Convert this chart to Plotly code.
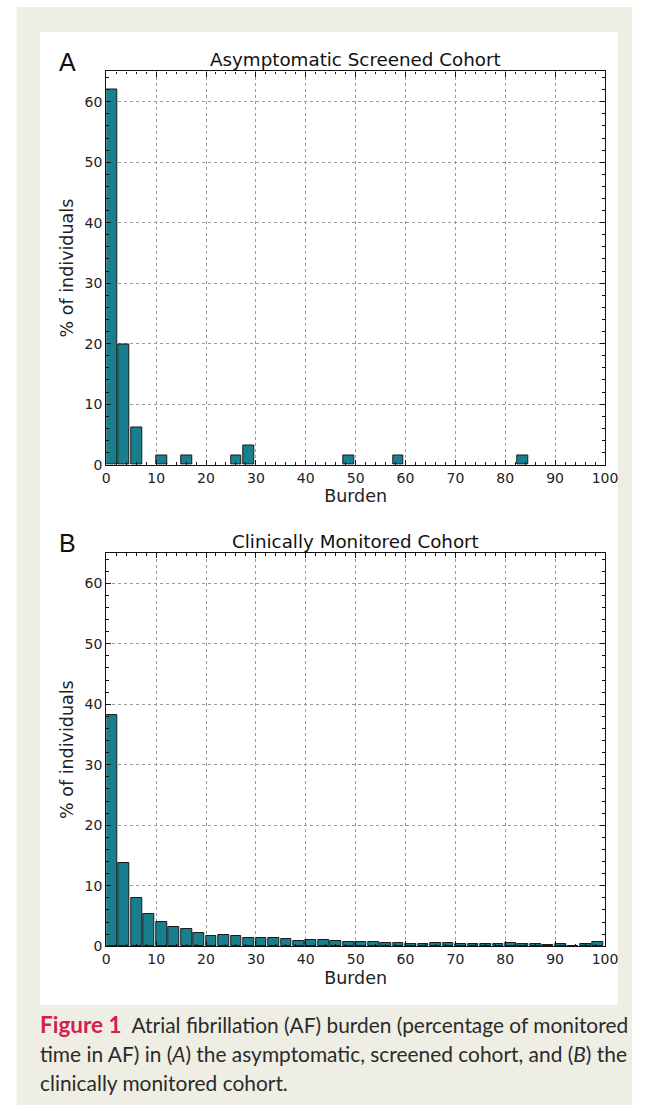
import plotly.graph_objects as go

# ---------------- data ----------------
bin_width = 2.5
bin_left = [i * bin_width for i in range(40)]  # 0, 2.5, ..., 97.5

cohort_a_pct = [62.0, 19.8, 6.1, 0, 1.55, 0, 1.55, 0, 0, 0,
                1.55, 3.1, 0, 0, 0, 0, 0, 0, 0, 1.55,
                0, 0, 0, 1.55, 0, 0, 0, 0, 0, 0,
                0, 0, 0, 1.55, 0, 0, 0, 0, 0, 0]

cohort_b_pct = [38.2, 13.8, 8.0, 5.4, 4.0, 3.1, 2.8, 2.2, 1.7, 1.9,
                1.6, 1.4, 1.3, 1.35, 1.25, 0.9, 1.1, 1.1, 0.8, 0.7,
                0.75, 0.7, 0.6, 0.6, 0.3, 0.4, 0.5, 0.45, 0.4, 0.35,
                0.3, 0.4, 0.5, 0.35, 0.3, 0.15, 0.4, 0.1, 0.4, 0.7]

x_ticks = [0, 10, 20, 30, 40, 50, 60, 70, 80, 90, 100]
y_ticks = [0, 10, 20, 30, 40, 50, 60]

titles = ["Asymptomatic Screened Cohort", "Clinically Monitored Cohort"]
panel_letters = ["A", "B"]
x_label = "Burden"
y_label = "% of individuals"

caption_lines = [
    "<b><span style='color:#d4204f;font-size:22.5px'>Figure 1</span></b>  Atrial fibrillation (AF) burden (percentage of monitored",
    "time in AF) in (<i>A</i>) the asymptomatic, screened cohort, and (<i>B</i>) the",
    "clinically monitored cohort.",
]

# ---------------- layout helpers ----------------
W, H = 655, 1120
def px(x): return x / W
def py(y): return 1 - y / H

BAR_COLOR = "#177f8e"
FONT = "DejaVu Sans"

fig = go.Figure()

for vals, xa, ya in [(cohort_a_pct, "x", "y"), (cohort_b_pct, "x2", "y2")]:
    fig.add_trace(go.Bar(
        x=bin_left, y=[v if v > 0 else None for v in vals], width=2.15, offset=0,
        marker=dict(color=BAR_COLOR, line=dict(color="#1a1a1a", width=1)),
        xaxis=xa, yaxis=ya, showlegend=False, hoverinfo="x+y",
    ))

axis_common = dict(
    showline=True, linecolor="#111", linewidth=1.2, mirror="ticks",
    ticks="inside", ticklen=5, tickcolor="#111",
    showgrid=True, gridcolor="#9a9a9a", griddash="dot", gridwidth=1,
    zeroline=False,
    tickfont=dict(family=FONT, size=14, color="#222"),
)

plot_left, plot_right = px(105), px(617)
doms = [(py(468), py(72)), (py(953), py(557))]

layout_axes = {}
for i, (ybot, ytop) in enumerate(doms):
    sfx = "" if i == 0 else "2"
    layout_axes["xaxis" + sfx] = dict(
        axis_common, domain=[plot_left, plot_right], range=[0, 100],
        tickvals=x_ticks, anchor="y" + sfx,
        minor=dict(ticks="inside", ticklen=2.5, dtick=2, tickcolor="#111", showgrid=False),
        title=dict(text=x_label, font=dict(family=FONT, size=17.5, color="#222"), standoff=5),
    )
    layout_axes["yaxis" + sfx] = dict(
        axis_common, domain=[ybot, ytop], range=[0, 65],
        tickvals=y_ticks, anchor="x" + sfx,
        minor=dict(ticks="inside", ticklen=2.5, dtick=2, tickcolor="#111", showgrid=False),
        title=dict(text=y_label, font=dict(family=FONT, size=17.5, color="#222"), standoff=6),
    )

annotations = []
title_y = [60, 545]
for i in range(2):
    annotations.append(dict(text=titles[i], x=px(361), y=py(title_y[i]), xref="paper", yref="paper",
                            showarrow=False, xanchor="center", yanchor="middle",
                            font=dict(family=FONT, size=18.3, color="#111")))
    annotations.append(dict(text=panel_letters[i], x=px(54), y=py(title_y[i] + 2), xref="paper", yref="paper",
                            showarrow=False, xanchor="left", yanchor="middle",
                            font=dict(family="Liberation Sans", size=25, color="#111")))

cap_y = [1032, 1061, 1090]
for i, line in enumerate(caption_lines):
    annotations.append(dict(text=line, x=px(35), y=py(cap_y[i]), xref="paper", yref="paper",
                            showarrow=False, xanchor="left", yanchor="middle", align="left",
                            font=dict(family="Lato", size=20.9, color="#2a2a2a")))

shapes = [
    dict(type="rect", xref="paper", yref="paper", x0=px(13), x1=px(645), y0=py(1113), y1=py(7),
         fillcolor="#efeee4", line=dict(width=0), layer="below"),
    dict(type="rect", xref="paper", yref="paper", x0=px(37), x1=px(630), y0=py(1012), y1=py(32),
         fillcolor="#ffffff", line=dict(width=0), layer="below"),
]

fig.update_layout(
    width=W, height=H, margin=dict(l=0, r=0, t=0, b=0),
    paper_bgcolor="#ffffff", plot_bgcolor="rgba(0,0,0,0)",
    bargap=0, annotations=annotations, shapes=shapes,
    **layout_axes,
)

fig.write_html("out.html", config=dict(displayModeBar=False),
               post_script="document.body.style.margin='0';document.body.style.overflow='hidden';")
